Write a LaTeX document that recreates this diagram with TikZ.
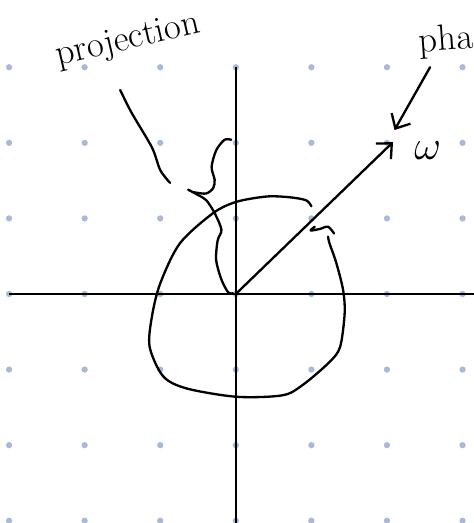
\documentclass[tikz,border=0pt]{standalone}
\usetikzlibrary{arrows.meta}
\definecolor{dotblue}{RGB}{168,186,216}
\begin{document}
\begin{tikzpicture}[
    x=1.6cm, y=1.6cm,
    dot/.style={circle, fill=dotblue, inner sep=0pt, minimum size=3.8pt},
    axis/.style={line width=1.1pt, black},
    ink/.style={line width=1.4pt, black, line cap=round, line join=round},
    vec/.style={ink, -{Straight Barb[length=7pt, width=13pt, line width=1.4pt]}},
    hand/.style={inner sep=0pt, font=\fontsize{22}{26}\selectfont},
]
\useasboundingbox (-3.12,-3.03) rectangle (3.15,3.89);
\foreach \i in {-3,...,3}
  \foreach \j in {-3,...,3}
    \node[dot] at (\i,\j) {};

\coordinate (O) at (0,0);
\coordinate (Ytop) at (0,3);
\coordinate (Ybot) at (0,-3.03);
\coordinate (Xl) at (-3,0);
\coordinate (Xr) at (3.15,0);
\coordinate (W) at (2.08,2.01);
\coordinate (Wtip) at (2.10,2.17);

\draw[axis] (Ytop) -- (Ybot);
\draw[axis] (Xl) -- (Xr);
\draw[vec] (O) -- (W);

\node[hand, anchor=base, rotate=13] (proj) at (-1.40,3.24) {projection};
\node[hand, anchor=base west, rotate=4] (phase) at (2.43,3.20) {pha};
\node[inner sep=0pt, font=\fontsize{28}{28}\selectfont] (omega) at (2.54,1.90) {$\omega$};

\draw[vec] (2.57,3.00) -- (Wtip);
\draw[ink] plot[smooth] coordinates {(-1.53,2.70) (-1.38,2.40) (-1.11,1.94) (-1.0,1.64) (-0.87,1.47)};
\draw[ink] plot[smooth] coordinates {(-0.06,2.04) (-0.15,2.04) (-0.26,1.90) (-0.32,1.68) (-0.28,1.51) (-0.30,1.40) (-0.39,1.33) (-0.52,1.34) (-0.57,1.35)};
\draw[ink] plot[smooth] coordinates {(-0.63,1.38) (-0.50,1.31) (-0.39,1.24) (-0.28,1.07) (-0.19,0.85) (-0.24,0.71) (-0.26,0.45) (-0.19,0.19) (-0.10,0.02) (-0.04,0.01)};

\draw[ink] plot[smooth] coordinates {(1.00,1.16) (0.93,1.24) (0.71,1.28) (0.41,1.29) (0.01,1.22) (-0.30,1.07) (-0.74,0.67) (-1.0,0.14) (-1.11,-0.30) (-1.14,-0.70) (-0.96,-1.09) (-0.65,-1.25) (0.01,-1.36) (0.62,-1.34) (0.89,-1.20) (1.24,-0.90) (1.38,-0.70) (1.44,-0.26) (1.42,0.05) (1.33,0.41) (1.24,0.67) (1.22,0.76)};
\draw[ink] plot[smooth] coordinates {(1.045,0.89) (0.99,0.84) (1.11,0.86) (1.22,0.89) (1.30,0.80)};
\end{tikzpicture}
\end{document}
